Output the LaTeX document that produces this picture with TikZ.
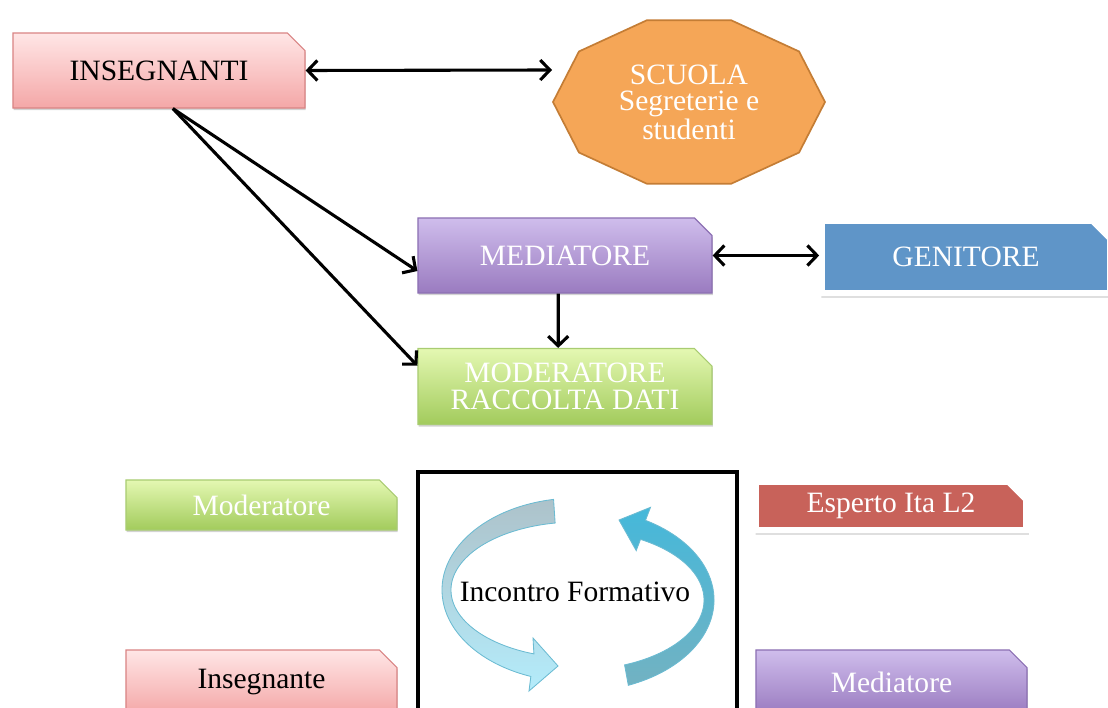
\documentclass[tikz,border=0pt]{standalone}
\usepackage{fontspec}
\setmainfont{Liberation Serif}
\usepackage{xcolor}
\usetikzlibrary{positioning,shapes.misc,shadows,arrows.meta}
\definecolor{pinktop}{HTML}{FFE6E6}
\definecolor{pinkbot}{HTML}{F4A7A7}
\definecolor{pinkline}{HTML}{D98484}
\definecolor{lilactop}{HTML}{CFBDEC}
\definecolor{lilacbot}{HTML}{9A7BC0}
\definecolor{lilacline}{HTML}{8C70B3}
\definecolor{limetop}{HTML}{E4F8B2}
\definecolor{limebot}{HTML}{A2CB5C}
\definecolor{limeline}{HTML}{A9CC72}
\definecolor{school}{HTML}{F5A657}
\definecolor{schoolline}{HTML}{C47D35}
\definecolor{parent}{HTML}{5F95C8}
\definecolor{expert}{HTML}{C8625A}
\definecolor{cyclegrey}{HTML}{ADC2CA}
\definecolor{cyclelight}{HTML}{B4ECFB}
\definecolor{cycletop}{HTML}{45B8DA}
\definecolor{cyclebot}{HTML}{72B2C2}
\definecolor{cycleline}{HTML}{6BBBD2}

\begin{document}
\begin{tikzpicture}[x=0.025cm,y=-0.025cm,
  every node/.style={font=\fontsize{21}{19}\selectfont},
  card/.style={chamfered rectangle, chamfered rectangle corners=north east,
    chamfered rectangle sep=0.22cm, inner sep=0pt, align=center,
    drop shadow={opacity=0.35,shadow xshift=0.5pt,shadow yshift=-1.5pt}},
  pinkcard/.style={card, top color=pinktop, bottom color=pinkbot, draw=pinkline, line width=0.8pt},
  lilaccard/.style={card, top color=lilactop, bottom color=lilacbot, draw=lilacline, line width=0.8pt, text=white},
  limecard/.style={card, top color=limetop, bottom color=limebot, draw=limeline, line width=0.8pt, text=white},
  framecard/.style={card, draw=white, line width=4pt, text=white,
    drop shadow={opacity=0.25,shadow xshift=0.8pt,shadow yshift=-3.2pt,shadow scale=1.012}},
  link/.style={line width=2.2pt},
  >={Straight Barb[length=2.4mm,width=5mm]}]
\useasboundingbox (0,0) rectangle (1108,708);
\clip (0,0) rectangle (1108,708);

% top row
\node[pinkcard, minimum width=7.3cm, minimum height=1.875cm] (insegnanti) at (159,70.5) {INSEGNANTI};
\begin{scope}[shift={(689,102)}]
\draw[fill=school, draw=schoolline, line width=1.2pt]
  (0:136 and 86) \foreach \a in {36,72,...,324}{ -- (\a:136 and 86)} -- cycle;
\end{scope}
\node[text=white, align=center] (scuola) at (689,102) {SCUOLA\\Segreterie e\\studenti};
\coordinate (scuola-w) at (552,70);

% middle
\node[lilaccard, minimum width=7.35cm, minimum height=1.875cm] (mediatore) at (565,255.5) {MEDIATORE};
\node[framecard, fill=parent, minimum width=7.2cm, minimum height=1.8cm] (genitore) at (966,257) {GENITORE};
\node[limecard, minimum width=7.35cm, minimum height=1.9cm] (moderatore) at (565,386.5) {MODERATORE\\RACCOLTA DATI};

\draw[link,<->] (insegnanti.east) -- (scuola-w);
\draw[link,->] (insegnanti.-70) -- (mediatore.-174);
\draw[link,->] (insegnanti.-70) -- (moderatore.172);
\draw[link,->] (mediatore.-100) -- (moderatore.100);
\draw[link,<->] (mediatore.east) -- (mediatore.east -| genitore.west);

% incontro formativo
\draw[line width=2.2pt] (418,472) rectangle (737,730);
\begin{scope}[shift={(577,590)}, y=0.025cm]
\path[top color=cyclegrey, bottom color=cyclelight, draw=cycleline, line width=0.6pt]
  ({135*cos(100)},{92*sin(100)}) arc[start angle=100, end angle=250, x radius=135, y radius=92]
  -- (-48,-101) -- (-19,-76) -- (-44,-48)
  -- ({126*cos(250)},{68*sin(250)}) arc[start angle=250, end angle=100, x radius=126, y radius=68]
  -- cycle;
\path[top color=cycletop, bottom color=cyclebot, draw=cycleline, line width=0.6pt]
  ({137*cos(-68)},{92*sin(-68)-10}) arc[start angle=-68, end angle=60, x radius=137, y radius=92]
  -- (73.5,82.7) -- (42,70) -- (59.2,39.4)
  -- ({127*cos(60)},{70*sin(60)-10}) arc[start angle=60, end angle=-68, x radius=127, y radius=70]
  -- cycle;
\end{scope}
\node (incontro) at (575,592) {Incontro Formativo};

\node[limecard, minimum width=6.775cm, minimum height=1.25cm] (moderatore2) at (261.5,505) {Moderatore};
\node[pinkcard, minimum width=6.775cm, minimum height=1.6cm] (insegnante) at (261.5,682) {Insegnante};
\node[framecard, fill=expert, minimum width=6.75cm, minimum height=1.2cm] (esperto) at (891,506) {Esperto Ita L2};
\node[lilaccard, minimum width=6.775cm, minimum height=1.6cm] (mediatore2) at (891.5,682) {Mediatore};
\end{tikzpicture}
\end{document}
